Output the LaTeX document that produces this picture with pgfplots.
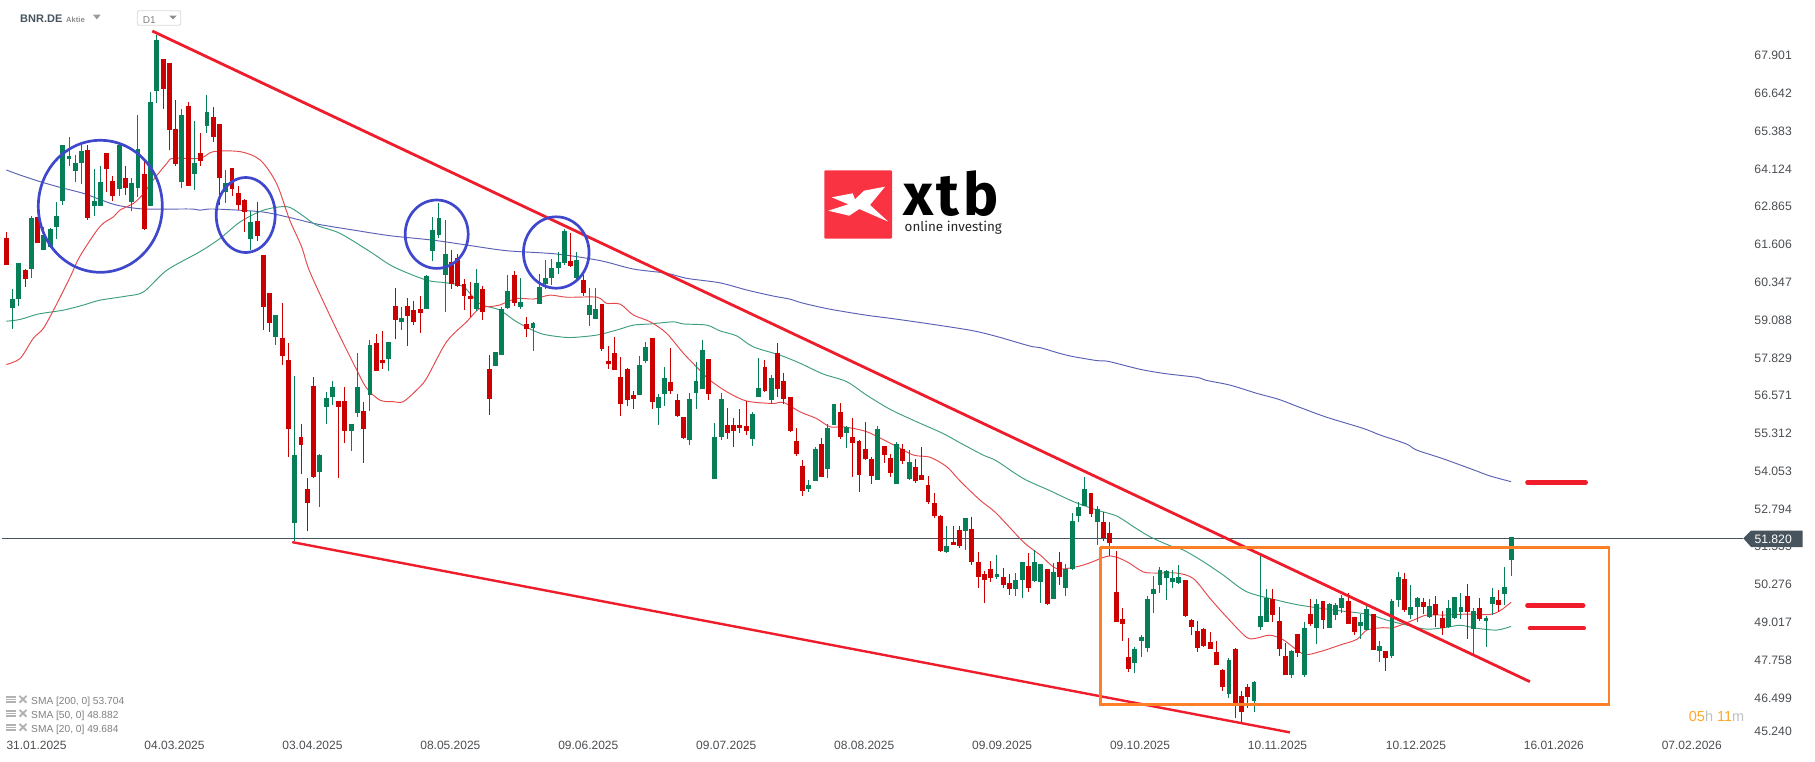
\documentclass[border=0pt]{standalone}
\usepackage{fontspec}
\setmainfont{Liberation Sans}
\newfontfamily\logofont{Fira Sans}
\newfontfamily\xtbfont{Fira Sans}[LetterSpace=6]
\usepackage{pgfplots}
\usepackage{pgfplotstable}
\pgfplotsset{compat=1.18}
\definecolor{cgreen}{HTML}{067F58}
\definecolor{cred}{HTML}{CC0000}
\definecolor{s20}{HTML}{E5474B}
\definecolor{s50}{HTML}{3F9E80}
\definecolor{s200}{HTML}{5A61B5}
\definecolor{trend}{HTML}{EF1C2B}
\definecolor{orng}{HTML}{FF7F27}
\definecolor{circ}{HTML}{3F48CC}
\definecolor{slate}{HTML}{47545E}
\definecolor{lbl}{HTML}{4A4E52}
\pgfplotstableread{
i L B T H u
0 60.92 60.92 61.82 62.01 0
1 58.79 59.50 59.79 60.14 1
2 59.56 59.79 60.99 60.99 1
3 60.20 60.45 60.75 60.78 0
4 60.49 60.79 62.49 62.55 1
5 61.65 61.65 62.52 62.52 0
6 61.42 61.42 61.94 62.20 1
7 61.48 61.53 62.12 62.15 1
8 61.79 62.19 62.55 63.02 1
9 62.93 63.05 64.92 64.92 1
10 64.22 64.47 64.55 65.19 1
11 63.69 64.05 64.32 64.59 1
12 63.62 64.32 64.72 64.95 1
13 62.42 62.49 64.75 64.92 0
14 62.55 62.89 63.05 64.12 1
15 62.89 62.89 63.69 64.22 1
16 63.35 64.12 64.65 64.65 0
17 63.05 63.22 63.72 63.89 0
18 63.22 63.45 64.92 64.92 1
19 63.25 63.49 63.82 64.22 0
20 62.72 63.02 63.65 63.82 1
21 63.19 63.49 64.79 65.92 1
22 62.09 62.12 63.95 64.45 0
23 62.89 62.89 66.35 66.69 1
24 66.32 66.72 68.42 68.59 1
25 66.12 66.79 67.79 67.79 0
26 64.75 65.42 67.65 67.65 0
27 64.22 64.29 65.45 66.42 0
28 63.49 63.69 65.92 66.12 1
29 63.55 63.55 66.22 66.35 0
30 63.42 63.95 64.32 65.72 1
31 64.22 64.39 64.65 65.32 0
32 65.32 65.55 66.02 66.59 1
33 65.02 65.19 65.85 66.19 0
34 62.92 63.82 65.62 65.62 0
35 62.99 63.35 63.65 64.09 1
36 63.22 63.45 64.15 64.15 0
37 62.75 62.92 63.32 63.55 0
38 62.02 62.69 63.09 63.12 0
39 61.42 61.79 62.35 62.72 1
40 61.72 61.89 62.39 63.02 0
41 58.75 59.52 61.25 61.25 0
42 58.69 58.99 59.99 59.99 0
43 58.25 58.52 59.25 59.25 1
44 57.59 57.89 58.49 59.65 0
45 54.52 55.45 57.75 58.32 0
46 51.72 52.32 54.59 57.22 1
47 53.95 54.92 55.19 55.62 0
48 52.05 52.99 53.45 53.82 0
49 53.82 53.85 56.89 57.20 0
50 52.85 54.02 54.59 54.62 1
51 55.62 56.19 56.49 56.69 1
52 56.25 56.52 56.85 57.05 1
53 53.82 56.19 56.39 56.39 0
54 54.99 55.39 56.39 56.85 0
55 54.72 55.39 55.62 55.62 1
56 55.85 55.99 56.85 57.99 1
57 54.32 55.45 56.05 56.35 0
58 56.05 56.59 58.25 58.42 1
59 57.39 57.39 58.32 58.62 0
60 57.45 57.65 57.75 58.72 0
61 57.39 57.79 58.35 58.35 1
62 58.45 59.09 59.55 60.15 0
63 58.75 59.02 59.15 59.52 1
64 58.22 59.22 59.55 59.82 0
65 58.92 59.02 59.42 59.72 0
66 58.65 59.32 59.45 59.89 0
67 59.45 59.45 60.55 60.59 1
68 61.05 61.39 62.09 62.52 1
69 61.82 61.92 62.49 62.99 1
70 59.35 60.59 61.29 62.42 1
71 60.12 60.29 61.02 61.42 0
72 60.19 60.22 61.15 61.29 0
73 59.42 59.89 60.29 60.45 0
74 59.19 59.79 59.89 60.35 0
75 59.39 59.45 60.32 60.79 1
76 59.09 59.35 60.12 60.22 0
77 55.92 56.45 57.45 57.92 0
78 57.56 57.56 58.02 58.02 1
79 57.92 57.92 59.45 59.52 1
80 59.45 59.49 60.05 60.59 1
81 59.55 59.65 60.59 60.72 0
82 59.45 59.52 59.69 60.49 1
83 58.52 58.79 58.95 59.19 0
84 58.05 58.82 58.99 59.02 1
85 59.62 59.62 60.19 60.62 1
86 60.12 60.29 60.49 61.09 1
87 60.25 60.49 60.82 61.12 1
88 60.62 60.82 61.02 61.35 1
89 60.92 60.99 62.05 62.12 1
90 60.85 60.89 61.05 61.99 0
91 60.42 60.49 61.09 61.35 1
92 59.89 59.99 60.42 60.59 0
93 58.89 59.25 59.59 60.15 1
94 59.12 59.12 59.45 60.15 1
95 58.05 58.12 59.62 59.62 0
96 57.45 57.62 57.72 58.22 0
97 57.42 57.42 57.99 58.52 0
98 55.89 56.29 57.19 57.85 0
99 56.22 56.42 57.45 57.49 0
100 56.12 56.45 56.59 56.72 0
101 56.59 56.59 57.59 57.89 1
102 57.65 57.72 58.19 58.35 1
103 56.12 56.35 58.49 58.49 0
104 55.59 56.15 56.52 56.62 1
105 56.22 56.62 57.15 57.52 1
106 56.62 56.72 57.02 58.15 0
107 55.85 55.89 56.42 56.62 0
108 55.12 55.15 55.85 55.85 0
109 54.92 55.09 56.45 56.65 1
110 56.12 56.65 57.05 57.69 1
111 56.79 56.79 58.09 58.42 1
112 56.42 56.62 57.79 57.79 0
113 53.79 53.79 55.19 55.65 1
114 55.09 55.19 56.45 56.65 1
115 55.12 55.32 55.59 56.15 0
116 54.85 55.39 55.59 55.82 0
117 55.32 55.49 55.59 56.12 0
118 55.25 55.39 55.55 56.39 0
119 54.89 55.12 55.95 56.02 1
120 56.52 56.52 56.82 57.82 1
121 56.69 56.72 57.52 57.75 0
122 56.29 56.42 57.15 57.25 1
123 56.52 56.79 57.99 58.32 0
124 56.29 56.45 57.05 57.32 0
125 55.35 55.39 56.52 56.52 0
126 54.55 54.62 55.05 55.49 0
127 53.22 53.39 54.22 54.42 0
128 53.35 53.45 53.59 53.75 1
129 53.72 53.72 54.79 54.85 1
130 53.85 53.85 54.95 55.15 0
131 53.82 54.12 55.49 55.62 1
132 55.59 55.59 56.29 56.29 1
133 55.12 55.19 56.02 56.32 0
134 54.82 55.32 55.52 55.55 1
135 53.85 54.99 55.19 55.82 0
136 53.35 53.92 55.05 55.09 0
137 54.42 54.45 54.79 55.69 0
138 53.62 53.89 54.45 54.52 0
139 53.75 53.75 55.45 55.55 1
140 54.32 54.59 54.89 54.89 0
141 53.85 53.99 54.49 54.62 0
142 53.62 53.62 54.95 55.02 1
143 54.29 54.39 54.79 54.96 0
144 53.76 53.79 54.36 54.76 1
145 53.66 53.73 54.19 54.46 0
146 53.76 53.76 53.93 54.86 0
147 52.96 53.03 53.59 53.89 0
148 52.49 52.56 52.99 53.33 0
149 51.36 51.39 52.56 52.59 0
150 51.33 51.36 51.56 52.23 1
151 51.59 51.59 51.69 52.23 0
152 51.49 51.56 52.09 52.23 0
153 51.43 52.06 52.49 52.49 1
154 50.93 51.03 52.13 52.53 0
155 50.16 50.53 51.03 51.36 0
156 49.66 50.43 50.63 50.73 0
157 50.36 50.49 50.79 51.06 0
158 50.46 50.53 50.63 51.26 1
159 50.16 50.26 50.53 50.83 0
160 49.93 50.13 50.33 50.63 0
161 49.89 50.13 50.43 50.66 1
162 49.83 50.43 51.03 51.03 1
163 50.03 50.16 50.89 51.33 0
164 50.36 50.39 51.03 51.43 1
165 49.66 50.36 50.96 50.96 1
166 49.59 49.63 50.79 50.79 0
167 49.79 49.79 50.69 50.99 1
168 50.26 50.53 51.03 51.36 0
169 49.89 50.16 50.79 50.96 1
170 50.76 50.79 52.39 52.66 1
171 52.36 52.56 52.86 53.03 1
172 52.89 52.89 53.46 53.86 1
173 52.53 52.63 53.33 53.33 0
174 51.59 52.36 52.79 52.89 1
175 51.73 51.83 52.36 52.69 0
176 51.23 51.66 51.99 52.36 0
177 49.03 49.03 50.03 51.39 0
178 48.39 48.96 49.13 49.49 0
179 47.36 47.46 47.86 48.49 0
180 47.33 47.66 48.13 48.19 1
181 47.86 48.39 48.53 48.59 1
182 48.03 48.16 49.79 49.89 1
183 49.33 49.96 50.13 50.56 1
184 49.99 50.26 50.76 50.86 1
185 49.76 50.49 50.73 50.76 1
186 50.16 50.36 50.49 50.76 1
187 50.29 50.33 50.53 50.93 1
188 49.19 49.23 50.43 50.43 0
189 48.59 48.86 49.09 49.13 0
190 48.03 48.16 48.73 49.06 0
191 48.19 48.23 48.79 48.83 0
192 48.13 48.13 48.36 48.69 0
193 47.59 47.59 48.03 48.39 0
194 46.73 46.86 47.43 47.46 0
195 46.49 46.63 47.76 47.83 1
196 45.83 46.29 48.13 48.16 0
197 45.69 46.03 46.56 46.73 0
198 46.16 46.53 46.86 46.96 0
199 46.03 46.39 47.03 47.06 1
200 48.76 48.86 49.23 51.23 1
201 49.03 49.03 49.83 50.13 1
202 49.03 49.26 49.79 50.13 0
203 47.89 48.13 49.06 49.53 0
204 47.26 47.26 47.89 48.33 0
205 47.16 47.26 48.06 48.09 1
206 47.86 47.99 48.63 48.63 0
207 47.19 47.26 48.83 49.03 1
208 48.89 48.96 49.29 49.79 0
209 48.29 48.83 49.63 49.79 1
210 48.79 49.09 49.73 49.73 0
211 48.83 48.83 49.63 49.66 1
212 49.09 49.26 49.59 49.66 1
213 49.33 49.49 49.83 49.93 1
214 48.96 48.96 49.73 49.99 0
215 48.59 48.69 49.19 49.19 0
216 48.46 48.89 49.03 49.29 1
217 48.76 48.76 49.46 49.63 1
218 48.09 48.09 49.29 49.29 0
219 47.69 48.06 48.23 48.39 1
220 47.39 47.83 48.06 48.06 0
221 47.83 47.89 49.73 49.79 1
222 49.53 49.76 50.53 50.69 1
223 49.36 49.43 50.46 50.66 0
224 49.13 49.26 49.53 50.26 1
225 49.03 49.53 49.83 49.86 1
226 49.29 49.53 49.69 49.83 0
227 49.16 49.19 49.56 49.79 1
228 48.86 49.26 49.63 49.89 0
229 48.59 48.83 49.16 49.39 0
230 48.83 48.86 49.49 49.76 1
231 49.13 49.16 49.86 49.86 1
232 49.13 49.36 49.53 49.99 1
233 48.46 49.36 49.89 50.29 0
234 47.96 48.79 49.39 49.49 1
235 49.06 49.13 49.49 49.83 0
236 48.19 49.06 49.16 49.23 1
237 49.26 49.63 49.86 50.16 1
238 49.36 49.59 49.76 50.09 0
239 49.59 49.96 50.19 50.86 1
240 50.56 51.09 51.86 51.86 1
}\candles
\pgfplotstableread{
i p
0 57.61
2.2 57.81
4.3 58.48
5.9 58.81
7.8 59.53
10.2 60.53
11.7 61.20
14.9 62.20
17.1 62.53
18.1 62.75
20.3 62.98
21.9 63.31
23.4 63.75
25.6 64.31
26.6 64.48
30.9 64.48
33 64.70
37.3 64.70
40.5 64.42
43.1 63.64
45.2 62.42
47.1 61.53
48.4 60.70
52.2 58.98
55.9 57.42
57.5 56.81
59.6 56.42
61.7 56.37
63.3 56.37
65.4 56.75
67 57.14
70.2 58.36
73.4 59.03
75.5 59.48
77.7 59.55
78.7 59.59
81.4 59.81
84.1 59.79
86.7 59.92
89.4 59.85
94.2 59.85
95.7 59.65
97.9 59.62
100 59.26
102.7 59.03
105.3 58.65
108 57.98
110.6 57.42
112.2 57.09
114.9 56.70
118.1 56.39
122.3 56.31
123.9 56.35
126.6 56.03
129.2 55.81
131.4 55.53
133.5 55.53
137.2 55.37
141.5 54.93
144.7 54.59
147.3 54.52
150 54.20
152.1 53.73
155.3 53.09
157.9 52.65
162.2 51.70
164.9 51.26
167.5 50.81
170.7 50.87
172.8 51.00
176 51.23
178.7 51.04
181.3 50.70
183.5 50.66
186.6 50.66
189.3 50.48
192 49.81
194.6 49.20
197.8 48.52
199.4 48.49
201.5 48.59
203.7 48.43
206.9 47.96
209.5 48.04
212.7 48.26
215.4 48.45
217 48.76
219.6 48.84
221.2 48.84
224.4 49.09
226.5 49.26
229.2 49.26
232.9 49.29
236.6 49.28
238.2 49.40
240 49.684
}\smatwenty
\pgfplotstableread{
i p
0 59.05
2.2 59.11
5.1 59.29
9.1 59.42
12.3 59.59
14.9 59.75
19.2 59.89
21.9 60.03
25.6 60.75
30.9 61.37
34.1 61.81
37.3 62.36
41 62.75
44.7 62.87
46.8 62.64
49.5 62.25
53.2 61.98
58 61.37
61.7 60.87
67 60.42
70.2 60.33
72.9 60.20
75.5 59.64
78.7 59.42
81.4 59.03
85.1 58.65
88.3 58.53
90.4 58.51
94.2 58.59
97.4 58.76
100 58.92
102.7 58.96
106.4 59.03
108 58.96
111.7 58.92
113.8 58.73
116.5 58.56
119.1 58.20
123.4 57.92
126.6 57.65
130.3 57.29
134 57.04
137.2 56.59
141 56.11
145.2 55.70
149.4 55.31
152.1 55.00
155.8 54.59
157.9 54.40
162.2 53.81
166.5 53.40
170.2 53.04
173.9 52.76
177.1 52.56
179.8 52.20
182.4 51.87
185.6 51.57
187.7 51.43
190.9 51.04
194.1 50.59
197.8 50.04
202.6 49.76
206.3 49.59
211.6 49.43
217 49.29
220.2 49.09
223.3 48.93
226.5 48.79
229.7 48.85
231.9 48.92
234.5 48.82
237.7 48.76
240 48.882
}\smafifty
\pgfplotstableread{
i p
0 64.09
2.2 63.92
5.4 63.70
8.6 63.51
12.3 63.31
14.9 63.11
17.6 62.92
21.9 62.79
29.3 62.79
30.9 62.75
33 62.79
40.5 62.70
44.7 62.53
49.5 62.29
55.3 62.09
61.2 61.90
68.1 61.75
73.4 61.59
79.8 61.40
87.8 61.29
94.7 61.07
100 60.79
105.3 60.65
108.5 60.48
113.8 60.33
118.1 60.09
122.3 59.89
124.9 59.79
127.1 59.65
131.4 59.45
137.2 59.25
140.9 59.15
147.3 58.96
154 58.74
158 58.54
163.3 58.22
164.9 58.17
168 57.98
170.2 57.87
173.9 57.74
175.8 57.71
180.8 57.45
185 57.30
189.9 57.18
191.4 57.08
195.2 56.92
199.4 56.65
202.9 56.45
206.3 56.18
210.6 55.85
216.4 55.48
219.1 55.26
223.3 54.96
224.9 54.76
228.7 54.50
231.9 54.26
234.5 54.06
236.7 53.89
240 53.704
}\smatwohundred
\begin{document}
\begin{tikzpicture}
\path[use as bounding box] (0,0) rectangle (1815pt,761pt);
\begin{axis}[
  at={(0,0)}, anchor=south west,
  scale only axis, width=1815pt, height=761pt,
  xmin=-1.0096, xmax=288.47, ymin=44.397, ymax=69.754,
  axis line style={draw=none},
  tick style={draw=none}, major tick length=0pt,
  ytick={67.901,66.642,65.383,64.124,62.865,61.606,60.347,59.088,57.829,56.571,55.312,54.053,52.794,51.535,50.276,49.017,47.758,46.499,45.38},
  yticklabels={67.901,66.642,65.383,64.124,62.865,61.606,60.347,59.088,57.829,56.571,55.312,54.053,52.794,51.535,50.276,49.017,47.758,46.499,45.240},
  yticklabel pos=right,
  yticklabel style={anchor=east, inner sep=0pt, xshift=-23pt, font=\fontsize{12.2}{14}\selectfont, text=lbl},
  xtick={0,22,44,66,88,110,132,154,176,198,220,242,264},
  xticklabels={31.01.2025,04.03.2025,03.04.2025,08.05.2025,09.06.2025,09.07.2025,08.08.2025,09.09.2025,09.10.2025,10.11.2025,10.12.2025,16.01.2026,07.02.2026},
  xticklabel pos=bottom,
  xticklabel style={anchor=base west, inner sep=0pt, yshift=11.5pt, font=\fontsize{12}{14}\selectfont, text=lbl},
  unbounded coords=discard,
  cwick/.style={draw=none, mark=none, forget plot,
    error bars/.cd, y dir=both, y explicit, error mark=none,
    error bar style={draw=#1, line width=1pt}},
  cbody/.style={draw=none, mark=none, forget plot,
    error bars/.cd, y dir=both, y explicit, error mark=none,
    error bar style={draw=#1, line width=4.9pt}},
]
% last price line
\addplot[slate, line width=1pt, forget plot] coordinates {(-0.69,51.82) (277,51.82)};
% moving averages
\addplot[s200, line width=0.95pt, smooth, tension=0.5] table[x=i,y=p] {\smatwohundred};
\addplot[s50, line width=0.95pt, smooth, tension=0.5] table[x=i,y=p] {\smafifty};
\addplot[s20, line width=0.95pt, smooth, tension=0.5] table[x=i,y=p] {\smatwenty};
% candles
\addplot[restrict expr to domain={\thisrow{u}}{1:1}, cwick=cgreen] table[x=i, y expr=(\thisrow{H}+\thisrow{L})/2, y error expr=(\thisrow{H}-\thisrow{L})/2] {\candles};
\addplot[restrict expr to domain={\thisrow{u}}{0:0}, cwick=cred] table[x=i, y expr=(\thisrow{H}+\thisrow{L})/2, y error expr=(\thisrow{H}-\thisrow{L})/2] {\candles};
\addplot[restrict expr to domain={\thisrow{u}}{1:1}, cbody=cgreen] table[x=i, y expr=(\thisrow{T}+\thisrow{B})/2, y error expr=(\thisrow{T}-\thisrow{B})/2] {\candles};
\addplot[restrict expr to domain={\thisrow{u}}{0:0}, cbody=cred] table[x=i, y expr=(\thisrow{T}+\thisrow{B})/2, y error expr=(\thisrow{T}-\thisrow{B})/2] {\candles};
% trend lines and levels
\addplot[trend, line width=2.8pt, forget plot] coordinates {(23.28,68.72) (243.0,47.04)};
\addplot[trend, line width=2.4pt, forget plot] coordinates {(45.6,51.69) (204.73,45.35)};
\addplot[trend, line width=4.4pt, line cap=round, forget plot] coordinates {(242.6,53.68) (251.9,53.68)};
\addplot[trend, line width=4.4pt, line cap=round, forget plot] coordinates {(242.6,49.58) (251.5,49.58)};
\addplot[trend, line width=4.4pt, line cap=round, forget plot] coordinates {(243.0,48.82) (251.6,48.82)};
\addplot[orng, line width=2.8pt, forget plot] coordinates {(174.5,51.52) (255.6,51.52) (255.6,46.29) (174.5,46.29) (174.5,51.52)};
% circles
\draw[circ, line width=2.7pt] (axis cs:14.99,62.88) ellipse [x radius=62pt, y radius=66pt];
\draw[circ, line width=2.7pt] (axis cs:38.18,62.59) ellipse [x radius=29.5pt, y radius=37.5pt];
\draw[circ, line width=2.7pt] (axis cs:68.64,61.95) ellipse [x radius=31.5pt, y radius=34.2pt];
\draw[circ, line width=2.7pt] (axis cs:87.71,61.34) ellipse [x radius=32.8pt, y radius=35.7pt];
\end{axis}
% overlays in pixel coordinates of the page
\begin{scope}[shift={(0pt,761pt)}, x=1pt, y=-1pt]
  % price tag
  \fill[slate] (1743.3,538.3) -- (1751,530.7) -- (1802.7,530.7) -- (1802.7,547) -- (1751,547) -- cycle;
  \node[anchor=east, inner sep=0pt, text=white, font=\fontsize{12.2}{14}\selectfont] at (1792,539.3) {51.820};
  % header
  \node[anchor=west, inner sep=0pt, text=slate, font=\fontsize{11}{13}\selectfont\bfseries] at (20,19) {BNR.DE};
  \node[anchor=west, inner sep=0pt, text=black!45, font=\fontsize{7.6}{9}\selectfont\bfseries] at (66,19.5) {Aktie};
  \fill[black!40] (93,14.7) -- (100.7,14.7) -- (96.85,19.3) -- cycle;
  \draw[black!15, line width=0.8pt, rounded corners=1.5pt] (137.3,10.7) rectangle (180.7,25.3);
  \node[anchor=west, inner sep=0pt, text=black!50, font=\fontsize{10}{12}\selectfont] at (142.7,20) {D1};
  \fill[black!45] (169.3,15.7) -- (176.7,15.7) -- (173,19.3) -- cycle;
  % study legend
  \foreach \yy/\txt in {699.3/{SMA [200, 0] 53.704},713.3/{SMA [50, 0] 48.882},727.3/{SMA [20, 0] 49.684}}{
    \fill[black!30] (6,\yy-3.8) rectangle (16,\yy-1.6);
    \fill[black!30] (6,\yy-0.6) rectangle (16,\yy+0.6);
    \fill[black!30] (6,\yy+1.6) rectangle (16,\yy+3.8);
    \draw[black!30, line width=1.9pt] (19.5,\yy-3.4) -- (26.5,\yy+3.4);
    \draw[black!30, line width=1.9pt] (19.5,\yy+3.4) -- (26.5,\yy-3.4);
    \node[anchor=west, inner sep=0pt, text=black!50, font=\fontsize{10.2}{12}\selectfont] at (31,\yy+2.4) {\txt};
  }
  % countdown
  \node[anchor=west, inner sep=0pt, font=\fontsize{14.5}{16}\selectfont] at (1688.7,716) {\textcolor[HTML]{FFA726}{05}\textcolor{black!25}{h} \textcolor[HTML]{FFA726}{11}\textcolor{black!25}{m}};
  % logo
  \fill[fill={rgb,255:red,249;green,51;blue,66}, rounded corners=1pt] (824.3,170.3) rectangle (892,238.7);
  \fill[white] (885,186.7) -- (864,190.7) -- (855,199.3) -- (852.7,193.3) -- (831.7,197.3) -- (848.3,204.3) -- (828.3,210.7) -- (849.3,215.7) -- (859.3,209) -- (888.3,221.7) -- (870,205) -- cycle;
  \node[anchor=base west, inner sep=0pt, font=\xtbfont\bfseries\fontsize{59}{60}\selectfont, text=black] at (903,216) {xtb};
  \node[anchor=base west, inner sep=0pt, font=\logofont\fontsize{13.4}{14}\selectfont, text=black!85] at (904.5,232) {online investing};
\end{scope}
\end{tikzpicture}
\end{document}
